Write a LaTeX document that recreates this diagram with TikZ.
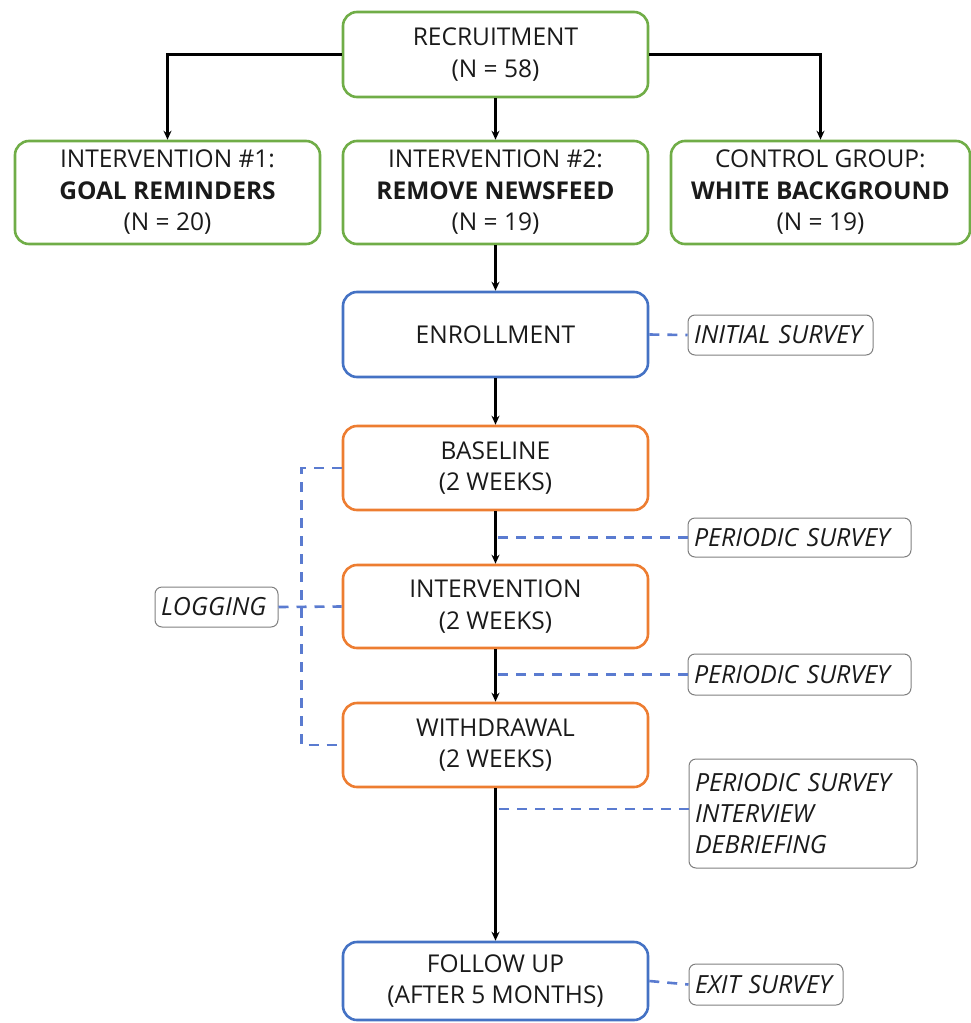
\documentclass[tikz,border=0pt]{standalone}
\usepackage{fontspec}
\setmainfont{Open Sans}
\usetikzlibrary{arrows.meta,calc}
\definecolor{grn}{HTML}{70AD47}
\definecolor{org}{HTML}{ED7D31}
\definecolor{blu}{HTML}{4472C4}
\definecolor{dsh}{HTML}{5A7BD0}
\definecolor{gry}{HTML}{7F7F7F}
\definecolor{txt}{HTML}{1A1A1A}
\tikzset{
  mainbox/.style={draw, line width=2.6pt, rounded corners=14pt, align=center,
     minimum width=305pt, inner sep=0pt, text=txt,
     font=\fontsize{24.5}{31.5}\selectfont},
  gbox/.style={mainbox, draw=grn},
  obox/.style={mainbox, draw=org},
  bbox/.style={mainbox, draw=blu},
  note/.style={draw=gry, line width=1pt, rounded corners=7pt, inner ysep=0pt,
     inner xsep=6pt, align=left, text=txt, font=\fontsize{25}{31}\selectfont\itshape},
  arr/.style={line width=2.4pt, -{Stealth[length=9pt,width=8pt]}},
  dsl/.style={draw=dsh, line width=2.6pt, dash pattern=on 10pt off 8pt}
}
\begin{document}
\begin{tikzpicture}[x=1pt,y=-1pt]
\useasboundingbox (0,0) rectangle (971,1023);
\node[gbox, minimum height=85pt] (rec) at (495.5,54.5) {RECRUITMENT\\(N = 58)};
\node[gbox, minimum height=103pt] (g1) at (167.5,192.5) {INTERVENTION \#1:\\\textbf{GOAL REMINDERS}\\(N = 20)};
\node[gbox, minimum height=103pt] (g2) at (495.5,192.5) {INTERVENTION \#2:\\\textbf{REMOVE NEWSFEED}\\(N = 19)};
\node[gbox, minimum height=103pt, minimum width=299pt] (g3) at (820.5,192.5) {CONTROL GROUP:\\\textbf{WHITE BACKGROUND}\\(N = 19)};
\node[bbox, minimum height=85pt] (enr) at (495.5,334.5) {ENROLLMENT};
\node[obox, minimum height=84pt] (base) at (495.5,468) {BASELINE\\(2 WEEKS)};
\node[obox, minimum height=83pt] (intv) at (495.5,606.5) {INTERVENTION\\(2 WEEKS)};
\node[obox, minimum height=84pt] (with) at (495.5,745) {WITHDRAWAL\\(2 WEEKS)};
\node[bbox, minimum height=78pt] (fol) at (495.5,981) {FOLLOW UP\\(AFTER 5 MONTHS)};

\node[note, text width=173pt, minimum height=40pt] (init) at (780.5,335) {INITIAL SURVEY};
\node[note, text width=211pt, minimum height=39pt] (ps1) at (799.5,537.5) {PERIODIC SURVEY};
\node[note, text width=211pt, minimum height=41pt] (ps2) at (799.5,674.5) {PERIODIC SURVEY};
\node[note, text width=216pt, minimum height=109pt] (ps3) at (803,813.5) {PERIODIC SURVEY\\INTERVIEW\\DEBRIEFING};
\node[note, text width=142pt, minimum height=41pt] (exit) at (766,984.5) {EXIT SURVEY};
\node[note, text width=111pt, minimum height=40pt] (log) at (216.5,607) {LOGGING};

\draw[arr] (rec.west) -| (g1.north);
\draw[arr] (rec.east) -| (g3.north);
\draw[arr] (rec.south) -- (g2.north);
\draw[arr] (g2.south) -- (enr.north);
\draw[arr] (enr.south) -- (base.north);
\draw[arr] (base.south) -- (intv.north);
\draw[arr] (intv.south) -- (with.north);
\draw[arr] (with.south) -- (fol.north);

\draw[dsl] (enr.east) -- (init.west);
\draw[dsl] (ps1.west) -- (ps1.west -| base.south);
\draw[dsl] (ps2.west) -- (ps2.west -| intv.south);
\coordinate (p3) at ($(ps3.west)+(0,-4.5)$);
\draw[dsl] (p3) -- (p3 -| with.south);
\draw[dsl] (fol.east) -- (exit.west);
\draw[dsl] (base.west) -- ++(-40,0) |- (with.west);
\draw[dsl] (log.east) -- (intv.west);
\end{tikzpicture}
\end{document}
